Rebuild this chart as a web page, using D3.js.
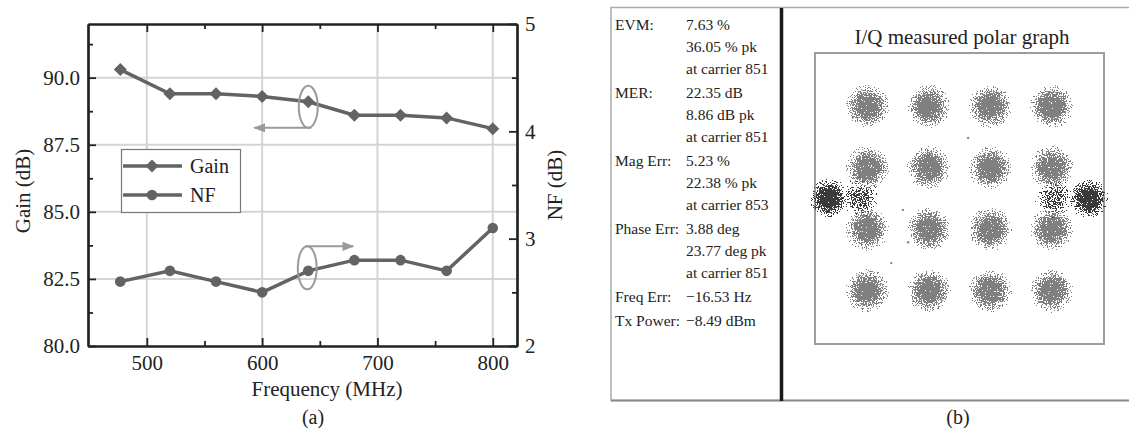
<!DOCTYPE html>
<html>
<head>
<meta charset="utf-8">
<script src="https://cdn.jsdelivr.net/npm/d3@7"></script>
<style>
  body { margin: 0; background: #fff; }
  svg { display: block; }
  .axis path, .axis line { stroke: #222; }
</style>
</head>
<body>
<svg width="1129" height="428"></svg>
<script>
// ---- panel (a) data ----
var freqs = [477, 520, 560, 600, 640, 680, 720, 760, 800];
var gain = [90.3, 89.4, 89.4, 89.3, 89.1, 88.6, 88.6, 88.5, 88.1];
var nf = [2.6, 2.7, 2.6, 2.5, 2.7, 2.8, 2.8, 2.7, 3.1];
var freqTicks = [500, 600, 700, 800];
var gainTicks = [80, 82.5, 85, 87.5, 90];
var nfTicks = [2, 3, 4, 5];

// ---- panel (b) data ----
var measLabels = ["EVM:", "MER:", "Mag Err:", "Phase Err:", "Freq Err:", "Tx Power:"];
var measValues = [
  ["7.63 %", "36.05 % pk", "at carrier 851"],
  ["22.35 dB", "8.86 dB pk", "at carrier 851"],
  ["5.23 %", "22.38 % pk", "at carrier 853"],
  ["3.88 deg", "23.77 deg pk", "at carrier 851"],
  ["\u221216.53 Hz"],
  ["\u22128.49 dBm"]
];
var levelsI = [-3, -1, 1, 3];
var levelsQ = [3, 1, -1, -3];
// extra (mis-mapped) clusters on the Q = 0 line
var extraI = [-4.24, -3.23, 3.1, 4.2];
var extraQ = [0, 0, 0, 0];
var extraDense = [1, 0.7, 0.7, 1];
// stray samples
var strayI = [0.28, -1.84, -2.22, -1.67];
var strayQ = [1.97, -0.37, -2.1, -1.42];

var SERIF = '"Liberation Serif", "Times New Roman", Times, serif';
var svg = d3.select("svg");
var defs = svg.append("defs");

function txt(g, s, size) {
  return g.append("text").style("font-family", SERIF).style("font-size", size)
      .attr("fill", "#222").text(s);
}

// ================= panel (a) =================
var x = d3.scaleLinear().domain([449, 821]).range([88, 517]);
var yG = d3.scaleLinear().domain([80, 92]).range([346, 24]);
var yN = d3.scaleLinear().domain([2, 5]).range([346, 24]);

var a = svg.append("g");

// grid
a.append("g").selectAll("line").data(freqTicks).enter().append("line")
    .attr("x1", function(d) { return x(d); }).attr("x2", function(d) { return x(d); })
    .attr("y1", 24).attr("y2", 346)
    .attr("stroke", "#d4d4d4").attr("stroke-width", 2);
a.append("g").selectAll("line").data(gainTicks.slice(1)).enter().append("line")
    .attr("x1", 88).attr("x2", 517)
    .attr("y1", function(d) { return yG(d); }).attr("y2", function(d) { return yG(d); })
    .attr("stroke", "#d4d4d4").attr("stroke-width", 2);

// minor ticks
function minor(axis, vals) {
  return axis.tickValues(vals).tickFormat("").tickSizeInner(-5).tickSizeOuter(0);
}
a.append("g").attr("class", "axis").attr("transform", "translate(0,346)")
    .call(minor(d3.axisBottom(x), [550, 650, 750]));
a.append("g").attr("class", "axis").attr("transform", "translate(0,24)")
    .call(minor(d3.axisTop(x), [550, 650, 750]));
a.append("g").attr("class", "axis").attr("transform", "translate(88,0)")
    .call(minor(d3.axisLeft(yG), [81.25, 83.75, 86.25, 88.75, 91.25]));
a.append("g").attr("class", "axis").attr("transform", "translate(517,0)")
    .call(minor(d3.axisRight(yN), [2.5, 3.5, 4.5]));

// major axes
var fs = "21px";
a.append("g").attr("class", "axis").attr("transform", "translate(0,346)")
    .call(d3.axisBottom(x).tickValues(freqTicks).tickSizeInner(-8).tickSizeOuter(0).tickPadding(9));
a.append("g").attr("class", "axis").attr("transform", "translate(0,24)")
    .call(d3.axisTop(x).tickValues(freqTicks).tickFormat("").tickSizeInner(-8).tickSizeOuter(0));
a.append("g").attr("class", "axis").attr("transform", "translate(88,0)")
    .call(d3.axisLeft(yG).tickValues(gainTicks).tickFormat(d3.format(".1f")).tickSizeInner(-8).tickSizeOuter(0).tickPadding(8));
a.append("g").attr("class", "axis").attr("transform", "translate(517,0)")
    .call(d3.axisRight(yN).tickValues(nfTicks).tickFormat(d3.format("d")).tickSizeInner(-8).tickSizeOuter(0).tickPadding(8));
a.selectAll(".axis path").attr("stroke-width", 2.2);
a.selectAll(".axis line").attr("stroke-width", 1.8);
a.selectAll(".axis").attr("font-family", SERIF);
a.selectAll(".axis text").style("font-family", SERIF).style("font-size", fs).attr("fill", "#222");

// axis titles
txt(a, "Frequency (MHz)", fs).attr("x", 327).attr("y", 396).attr("text-anchor", "middle");
txt(a, "Gain (dB)", fs).attr("transform", "translate(30,191) rotate(-90)").attr("text-anchor", "middle");
txt(a, "NF (dB)", fs).attr("transform", "translate(562,185) rotate(-90)").attr("text-anchor", "middle");
txt(a, "(a)", "20px").attr("x", 313).attr("y", 424).attr("text-anchor", "middle");

// series
var lineCol = "#636363";
var diamond = "M0,-6.5L6.5,0L0,6.5L-6.5,0Z";
var gainLine = d3.line().x(function(d, i) { return x(freqs[i]); }).y(function(d) { return yG(d); });
var nfLine = d3.line().x(function(d, i) { return x(freqs[i]); }).y(function(d) { return yN(d); });
a.append("path").attr("d", gainLine(gain)).attr("fill", "none")
    .attr("stroke", lineCol).attr("stroke-width", 3.5);
a.append("path").attr("d", nfLine(nf)).attr("fill", "none")
    .attr("stroke", lineCol).attr("stroke-width", 3.5);
a.append("g").selectAll("path").data(gain).enter().append("path")
    .attr("d", diamond)
    .attr("transform", function(d, i) { return "translate(" + x(freqs[i]) + "," + yG(d) + ")"; })
    .attr("fill", lineCol);
a.append("g").selectAll("circle").data(nf).enter().append("circle")
    .attr("cx", function(d, i) { return x(freqs[i]); })
    .attr("cy", function(d) { return yN(d); })
    .attr("r", 5.3).attr("fill", lineCol);

// annotation ellipses and arrows
var annCol = "#9a9a9a";
defs.append("marker").attr("id", "ah")
    .attr("viewBox", "0 0 10 10").attr("refX", 9).attr("refY", 5)
    .attr("markerWidth", 6).attr("markerHeight", 6).attr("markerUnits", "strokeWidth")
    .attr("orient", "auto")
    .append("path").attr("d", "M0,1.2L10,5L0,8.8Z").attr("fill", annCol);
var gx0 = x(freqs[4]), gy0 = yG(gain[4]) + 5;
a.append("ellipse").attr("cx", gx0).attr("cy", gy0).attr("rx", 9.5).attr("ry", 21)
    .attr("fill", "none").attr("stroke", annCol).attr("stroke-width", 2);
a.append("line").attr("x1", gx0 + 3).attr("y1", gy0 + 21).attr("x2", gx0 - 54).attr("y2", gy0 + 21)
    .attr("stroke", annCol).attr("stroke-width", 2).attr("marker-end", "url(#ah)");
var nx0 = x(freqs[4]) - 1, ny0 = yN(nf[4]) - 3;
a.append("ellipse").attr("cx", nx0).attr("cy", ny0).attr("rx", 9.5).attr("ry", 21.5)
    .attr("fill", "none").attr("stroke", annCol).attr("stroke-width", 2);
a.append("line").attr("x1", nx0 - 2).attr("y1", ny0 - 21.5).attr("x2", nx0 + 46).attr("y2", ny0 - 21.5)
    .attr("stroke", annCol).attr("stroke-width", 2).attr("marker-end", "url(#ah)");

// legend
var lg = a.append("g");
lg.append("rect").attr("x", 121.5).attr("y", 149.5).attr("width", 119).attr("height", 63)
    .attr("fill", "#fff").attr("stroke", "#777").attr("stroke-width", 1.2);
var legNames = ["Gain", "NF"];
legNames.forEach(function(name, i) {
  var ly = 166 + i * 29;
  lg.append("line").attr("x1", 123).attr("x2", 182).attr("y1", ly).attr("y2", ly)
      .attr("stroke", lineCol).attr("stroke-width", 3.5);
  if (i === 0) {
    lg.append("path").attr("d", diamond).attr("transform", "translate(152," + ly + ")").attr("fill", lineCol);
  } else {
    lg.append("circle").attr("cx", 152).attr("cy", ly).attr("r", 5.3).attr("fill", lineCol);
  }
  txt(lg, name, "20px").attr("x", 190).attr("y", ly + 7);
});

// ================= panel (b) =================
var b = svg.append("g");
b.append("rect").attr("x", 611).attr("y", 7.5).attr("width", 170).attr("height", 393)
    .attr("fill", "none").attr("stroke", "#aaa").attr("stroke-width", 1.5);
b.append("line").attr("x1", 781).attr("x2", 1129).attr("y1", 7.5).attr("y2", 7.5)
    .attr("stroke", "#aaa").attr("stroke-width", 1.5);
b.append("line").attr("x1", 611).attr("x2", 1129).attr("y1", 400.5).attr("y2", 400.5)
    .attr("stroke", "#888").attr("stroke-width", 2.2);
b.append("line").attr("x1", 781.5).attr("x2", 781.5).attr("y1", 8).attr("y2", 401)
    .attr("stroke", "#1a1a1a").attr("stroke-width", 3.5);

// measurement text
var ty = 30;
measLabels.forEach(function(lab, gi) {
  txt(b, lab, "15.5px").attr("x", 615).attr("y", ty);
  measValues[gi].forEach(function(v, li) {
    txt(b, v, "15.5px").attr("x", 686).attr("y", ty + li * 22);
  });
  ty += (measValues[gi].length - 1) * 22 + 24;
});

txt(b, "I/Q measured polar graph", "21px").attr("x", 962).attr("y", 44).attr("text-anchor", "middle");
txt(b, "(b)", "20px").attr("x", 958).attr("y", 424).attr("text-anchor", "middle");

var xi = d3.scaleLinear().domain([-4.7, 4.7]).range([815, 1104]);
var yq = d3.scaleLinear().domain([4.73, -4.73]).range([53, 344]);
b.append("rect").attr("x", 815).attr("y", 53).attr("width", 289).attr("height", 291)
    .attr("fill", "none").attr("stroke", "#9c9c9c").attr("stroke-width", 2);

// speckle filters turn a soft blob into a cloud of samples
function speckle(id, col, seed) {
  var f = defs.append("filter").attr("id", id)
      .attr("x", "-20%").attr("y", "-20%").attr("width", "140%").attr("height", "140%")
      .attr("color-interpolation-filters", "sRGB");
  f.append("feTurbulence").attr("type", "fractalNoise").attr("baseFrequency", 0.8)
      .attr("numOctaves", 2).attr("seed", seed).attr("result", "noise");
  f.append("feComposite").attr("in", "SourceAlpha").attr("in2", "noise")
      .attr("operator", "arithmetic").attr("k1", 0).attr("k2", 1).attr("k3", 1.6).attr("k4", -0.95)
      .attr("result", "sum");
  f.append("feComponentTransfer").attr("in", "sum").attr("result", "mask")
      .append("feFuncA").attr("type", "discrete").attr("tableValues", "0 1");
  f.append("feFlood").attr("flood-color", col).attr("result", "col");
  f.append("feComposite").attr("in", "col").attr("in2", "mask").attr("operator", "in");
}
speckle("spGray", "#808080", 4);
speckle("spDark", "#3a3a3a", 9);

var rg = defs.append("radialGradient").attr("id", "blob");
rg.append("stop").attr("offset", "0%").attr("stop-color", "#000").attr("stop-opacity", 1);
rg.append("stop").attr("offset", "38%").attr("stop-color", "#000").attr("stop-opacity", 0.98);
rg.append("stop").attr("offset", "62%").attr("stop-color", "#000").attr("stop-opacity", 0.72);
rg.append("stop").attr("offset", "100%").attr("stop-color", "#000").attr("stop-opacity", 0.35);

var grid = [];
levelsQ.forEach(function(q) { levelsI.forEach(function(i) { grid.push({ i: i, q: q }); }); });

b.append("g").selectAll("circle").data(grid).enter().append("circle")
    .attr("cx", function(d) { return xi(d.i); })
    .attr("cy", function(d) { return yq(d.q); })
    .attr("r", 22).attr("fill", "url(#blob)").attr("filter", "url(#spGray)");

b.append("g").selectAll("circle").data(extraI).enter().append("circle")
    .attr("cx", function(d) { return xi(d); })
    .attr("cy", function(d, k) { return yq(extraQ[k]); })
    .attr("r", 20).attr("fill", "url(#blob)")
    .attr("fill-opacity", function(d, k) { return extraDense[k]; })
    .attr("filter", "url(#spDark)");

b.append("g").selectAll("circle").data(strayI).enter().append("circle")
    .attr("cx", function(d) { return xi(d); })
    .attr("cy", function(d, k) { return yq(strayQ[k]); })
    .attr("r", 1.2).attr("fill", "#888");
</script>
</body>
</html>
